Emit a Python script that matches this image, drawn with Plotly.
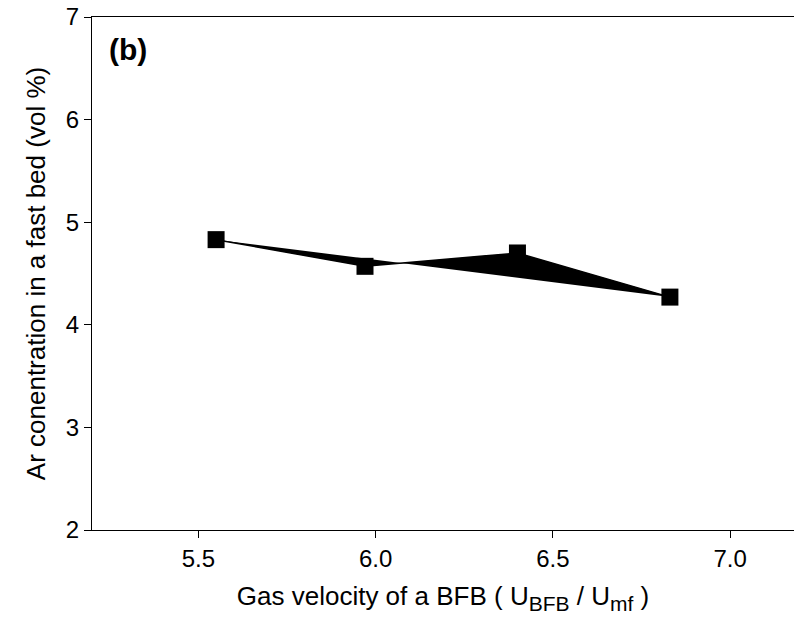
import plotly.graph_objects as go

# Data
gas_velocity = [5.55, 5.97, 6.40, 6.83]
ar_concentration = [4.83, 4.57, 4.70, 4.27]

x_ticks = [5.5, 6.0, 6.5, 7.0]
x_tick_labels = ["5.5", "6.0", "6.5", "7.0"]
y_ticks = [2, 3, 4, 5, 6, 7]
y_tick_labels = ["2", "3", "4", "5", "6", "7"]

fig = go.Figure()
fig.add_trace(go.Scatter(
    x=gas_velocity, y=ar_concentration,
    mode="lines+markers",
    fill="toself", fillcolor="black",
    line=dict(color="black", width=1.5),
    marker=dict(symbol="square", size=17, color="black"),
    showlegend=False,
))

font_family = "Liberation Sans, Arial, sans-serif"
sub = "<sub><span style='font-size:21px'>{}</span></sub>"

fig.update_layout(
    width=794, height=633,
    margin=dict(l=92, r=0, t=17, b=103),
    paper_bgcolor="white", plot_bgcolor="white",
    font=dict(family=font_family, color="black", size=24),
    xaxis=dict(
        range=[5.2, 7.18],
        tickvals=x_ticks, ticktext=x_tick_labels,
        ticks="outside", ticklen=7, tickwidth=1, tickcolor="black",
        showline=True, linecolor="black", linewidth=1, mirror=True,
        showgrid=False, zeroline=False,
        tickfont=dict(size=24),
        title=dict(text="Gas velocity of a BFB ( U" + sub.format("BFB") + " / U" + sub.format("mf") + " )",
                   font=dict(size=26), standoff=16),
    ),
    yaxis=dict(
        range=[2, 7],
        tickvals=y_ticks, ticktext=y_tick_labels,
        ticks="outside", ticklen=7, tickwidth=1, tickcolor="black",
        showline=True, linecolor="black", linewidth=1,
        showgrid=False, zeroline=False,
        tickfont=dict(size=24),
        title=dict(text="Ar conentration in a fast bed (vol %)",
                   font=dict(size=26), standoff=12),
    ),
    annotations=[dict(
        text="<b>(b)</b>", xref="paper", yref="paper",
        x=0.022, y=0.936, xanchor="left", yanchor="middle",
        showarrow=False, font=dict(size=30, family=font_family, color="black"),
    )],
)

fig.write_html("out.html")
